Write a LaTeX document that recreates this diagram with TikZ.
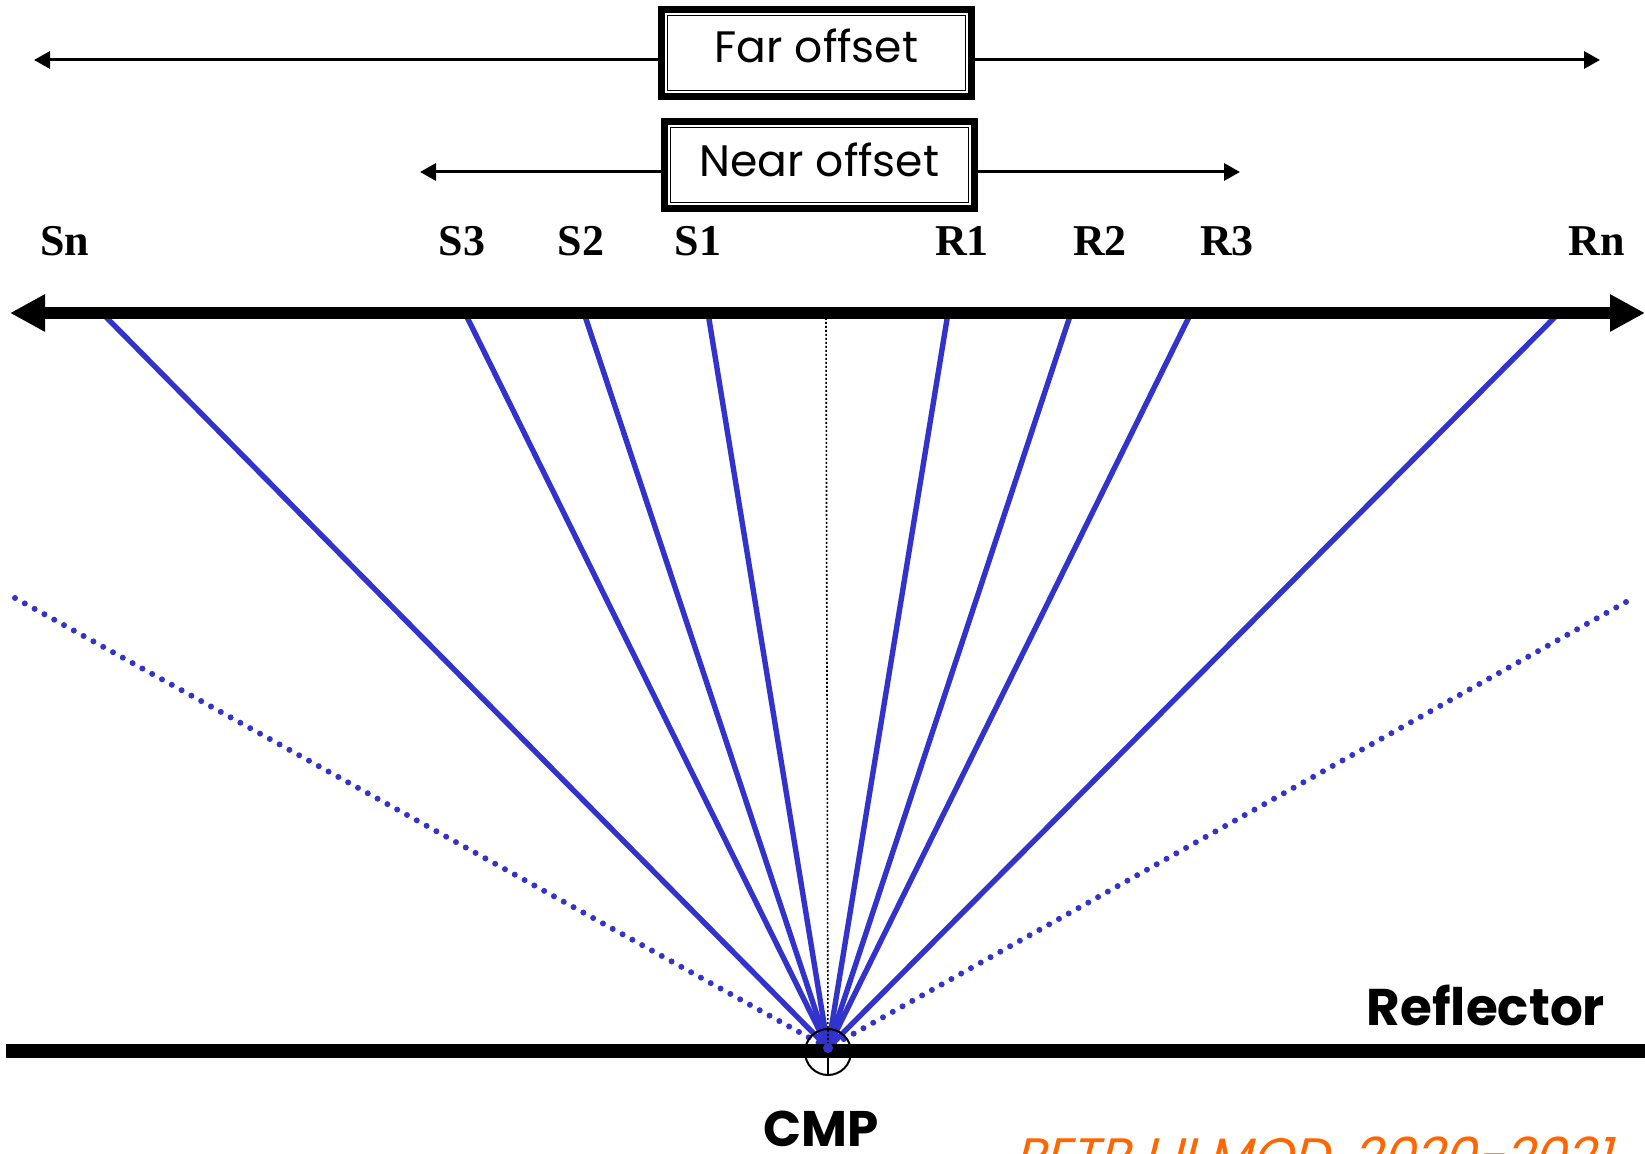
\documentclass[tikz,border=0pt]{standalone}
\usepackage{fontspec}
\setmainfont{Liberation Serif}
\newfontfamily\handfont{Poppins}
\newfontfamily\slantfont[FakeSlant=0.25]{Poppins}
\usetikzlibrary{arrows.meta}

\definecolor{rayblue}{RGB}{50,50,204}
\definecolor{stamp}{RGB}{255,102,0}

\tikzset{
  offsetbox/.style={draw, line width=3.4pt, fill=white, inner sep=0pt,
    minimum width=155pt, minimum height=43.5pt},
  boxtext/.style={font=\handfont\fontsize{22}{24}\selectfont, anchor=base, inner sep=0pt},
  innerframe/.style={line width=0.6pt},
  spanarrow/.style={line width=1.5pt, -{Triangle[length=8pt,width=8.5pt]}},
  axis/.style={line width=6pt, {Triangle[length=17.5pt,width=17.5pt]}-{Triangle[length=17.5pt,width=17.5pt]}},
  station/.style={font=\bfseries\fontsize{22}{24}\selectfont, anchor=base},
  ray/.style={draw=rayblue, line width=2.7pt},
  limitray/.style={draw=rayblue, line width=3pt, line cap=round, dash pattern=on 0pt off 5.6pt},
  normal/.style={draw=black, line width=0.8pt, dash pattern=on 1pt off 1pt},
  bigword/.style={font=\handfont\bfseries\fontsize{25}{27}\selectfont, anchor=base, inner sep=0pt}
}

\begin{document}
\begin{tikzpicture}[x=0.5pt, y=-0.5pt]
\useasboundingbox (0,0) rectangle (1645,1154);
\clip (0,0) rectangle (1645,1154);

% common midpoint on the reflector
\coordinate (cmp) at (828,1048);

% surface positions of sources and receivers
\coordinate (pSn) at (102,313);
\coordinate (pS3) at (465,313);
\coordinate (pS2) at (584,313);
\coordinate (pS1) at (708,313);
\coordinate (pR1) at (948,313);
\coordinate (pR2) at (1071,313);
\coordinate (pR3) at (1191,313);
\coordinate (pRn) at (1559,313);

% rays down to the common midpoint
\foreach \p in {Sn,S3,S2,S1,R1,R2,R3,Rn}
  \draw[ray] (p\p) -- (cmp);

% outermost (dotted) ray paths
\coordinate (dL) at (15,598);
\coordinate (dR) at (1626,602);
\draw[limitray] (dL) -- (cmp);
\draw[limitray] (dR) -- (cmp);

% vertical normal through the midpoint
\coordinate (nTop) at (826,318);
\draw[normal] (nTop) -- (cmp);

% reflector
\coordinate (refL) at (6,1051);
\coordinate (refR) at (1660,1051);
\draw[line width=7pt] (refL) -- (refR);

% midpoint marker
\node[circle, draw, line width=1pt, minimum size=23pt, inner sep=0pt] (mark) at (828,1052) {};
\draw[line width=1pt] (mark.center) -- (mark.south);
\fill[rayblue] (cmp) circle (2.5pt);

% surface line
\coordinate (axL) at (10,313);
\coordinate (axR) at (1645,313);
\draw[axis] (axL) -- (axR);

% station labels
\node[station] (Sn) at (65,256) {Sn};
\node[station] (S3) at (462,256) {S3};
\node[station] (S2) at (581,256) {S2};
\node[station] (S1) at (698,256) {S1};
\node[station] (R1) at (962,256) {R1};
\node[station] (R2) at (1100,256) {R2};
\node[station] (R3) at (1227,256) {R3};
\node[station] (Rn) at (1597,256) {Rn};

% far offset span
\node[offsetbox] (far) at (816.5,53) {};
\draw[innerframe] ([shift={(6.5,6.5)}]far.north west) rectangle ([shift={(-6.5,-6.5)}]far.south east);
\draw[innerframe] ([shift={(9.5,9.5)}]far.north west) rectangle ([shift={(-9.5,-9.5)}]far.south east);
\node[boxtext] (fartext) at (816.5,63) {Far offset};
\coordinate (farL) at (34,60);
\coordinate (farR) at (1600,60);
\draw[spanarrow] (far.west |- farL) -- (farL);
\draw[spanarrow] (far.east |- farR) -- (farR);

% near offset span
\node[offsetbox] (near) at (819.5,165) {};
\draw[innerframe] ([shift={(6.5,6.5)}]near.north west) rectangle ([shift={(-6.5,-6.5)}]near.south east);
\draw[innerframe] ([shift={(9.5,9.5)}]near.north west) rectangle ([shift={(-9.5,-9.5)}]near.south east);
\node[boxtext] (neartext) at (819.5,177) {Near offset};
\coordinate (nearL) at (420,172);
\coordinate (nearR) at (1240,172);
\draw[spanarrow] (near.west |- nearL) -- (nearL);
\draw[spanarrow] (near.east |- nearR) -- (nearR);

% words
\node[bigword, font=\handfont\bfseries\fontsize{25.8}{27}\selectfont] (refl) at (1486,1025) {Reflector};
\node[bigword] (cmpw) at (821,1146) {CMP};
\node[font=\slantfont\fontsize{25.6}{27}\selectfont, text=stamp, anchor=north west, inner sep=0pt] (stampw) at (1014,1136) {PETR I II MOD. 2020-2021};
\end{tikzpicture}
\end{document}
